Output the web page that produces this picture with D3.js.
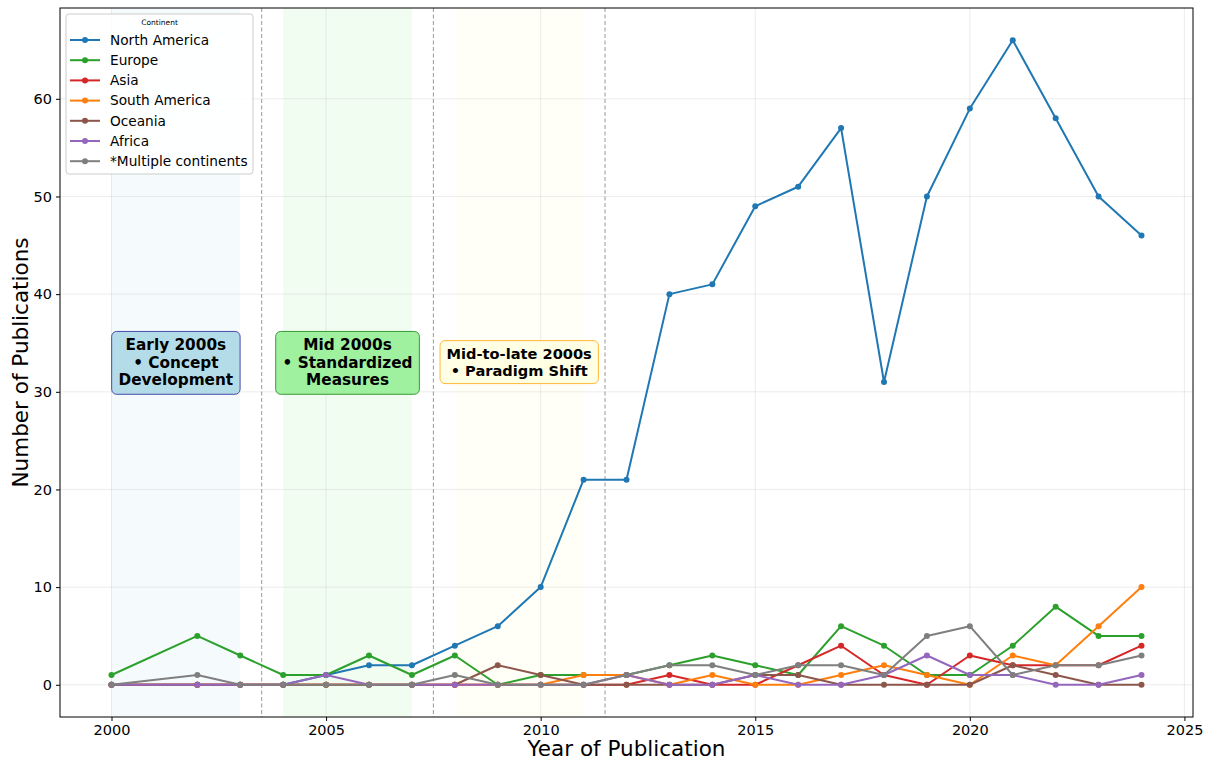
<!DOCTYPE html>
<html>
<head>
<meta charset="utf-8">
<script src="https://cdn.jsdelivr.net/npm/d3@7"></script>
<style>
  html, body { margin: 0; padding: 0; background: #fff; }
  svg { display: block; font-family: "DejaVu Sans", sans-serif; }
</style>
</head>
<body>
<svg id="chart" width="1210" height="760"></svg>
<script>
// Publications per year, by continent
const years = [2000, 2002, 2003, 2004, 2005, 2006, 2007, 2008, 2009, 2010, 2011, 2012,
               2013, 2014, 2015, 2016, 2017, 2018, 2019, 2020, 2021, 2022, 2023, 2024];
const northAmerica = [0, 0, 0, 0, 1, 2, 2, 4, 6, 10, 21, 21, 40, 41, 49, 51, 57, 31, 50, 59, 66, 58, 50, 46];
const europe       = [1, 5, 3, 1, 1, 3, 1, 3, 0, 1, 1, 1, 2, 3, 2, 1, 6, 4, 1, 1, 4, 8, 5, 5];
const asia         = [0, 0, 0, 0, 0, 0, 0, 0, 0, 0, 0, 0, 1, 0, 0, 2, 4, 1, 0, 3, 2, 2, 2, 4];
const southAmerica = [0, 0, 0, 0, 0, 0, 0, 0, 0, 0, 1, 1, 0, 1, 0, 0, 1, 2, 1, 0, 3, 2, 6, 10];
const oceania      = [0, 0, 0, 0, 0, 0, 0, 0, 2, 1, 0, 0, 0, 0, 1, 1, 0, 0, 0, 0, 2, 1, 0, 0];
const africa       = [0, 0, 0, 0, 1, 0, 0, 0, 0, 0, 0, 1, 0, 0, 1, 0, 0, 1, 3, 1, 1, 0, 0, 1];
const multiple     = [0, 1, 0, 0, 0, 0, 0, 1, 0, 0, 0, 1, 2, 2, 1, 2, 2, 1, 5, 6, 1, 2, 2, 3];

const seriesNames  = ["North America", "Europe", "Asia", "South America", "Oceania", "Africa", "*Multiple continents"];
const seriesValues = [northAmerica, europe, asia, southAmerica, oceania, africa, multiple];
const seriesColors = ["#1f77b4", "#2ca02c", "#d62728", "#ff7f0e", "#8c564b", "#9467bd", "#7f7f7f"];

const xTicks = [2000, 2005, 2010, 2015, 2020, 2025];
const yTicks = [0, 10, 20, 30, 40, 50, 60];

// Era bands, dividers and their labels
const eraStart  = [2000, 2004, 2008];
const eraEnd    = [2003, 2007, 2011];
const eraFill   = ["#b0e0e6", "#90ee90", "#ffffe0"];
const eraDividers = [2003.5, 2007.5, 2011.5];
const eraLabels = [
  ["Early 2000s", "\u2022 Concept", "Development"],
  ["Mid 2000s", "\u2022 Standardized", "Measures"],
  ["Mid-to-late 2000s", "\u2022 Paradigm Shift"]
];
const eraLabelX = [2001.5, 2005.5, 2009.5];
const eraLabelY = 33;
const eraBoxFill   = ["#add8e6", "#90ee90", "#ffffe0"];
const eraBoxStroke = ["#4a4aa8", "#3a9a3a", "#ffb833"];
const eraFontSize  = [15.3, 15.3, 14.6];

const svg = d3.select("#chart");
const margin = { left: 60, right: 17, top: 8, bottom: 43 };
const W = 1210, H = 760;
const plotW = W - margin.left - margin.right;
const plotH = H - margin.top - margin.bottom;

const x = d3.scaleLinear().domain([1998.8, 2025.2]).range([margin.left, margin.left + plotW]);
const y = d3.scaleLinear().domain([-3.3, 69.3]).range([margin.top + plotH, margin.top]);

const g = svg.append("g");

// shaded era bands
g.selectAll("rect.era").data(eraStart).enter().append("rect")
  .attr("class", "era")
  .attr("x", (d) => x(d))
  .attr("width", (d, i) => x(eraEnd[i]) - x(d))
  .attr("y", margin.top)
  .attr("height", plotH)
  .attr("fill", (d, i) => eraFill[i])
  .attr("fill-opacity", (d, i) => i === 2 ? 0.25 : 0.12);

// grid
g.append("g").selectAll("line").data(xTicks).enter().append("line")
  .attr("x1", (d) => x(d)).attr("x2", (d) => x(d))
  .attr("y1", margin.top).attr("y2", margin.top + plotH)
  .attr("stroke", "#b0b0b0").attr("stroke-opacity", 0.3).attr("stroke-width", 0.8);
g.append("g").selectAll("line").data(yTicks).enter().append("line")
  .attr("y1", (d) => y(d)).attr("y2", (d) => y(d))
  .attr("x1", margin.left).attr("x2", margin.left + plotW)
  .attr("stroke", "#b0b0b0").attr("stroke-opacity", 0.3).attr("stroke-width", 0.8);

// era dividers
g.selectAll("line.div").data(eraDividers).enter().append("line")
  .attr("class", "div")
  .attr("x1", (d) => x(d)).attr("x2", (d) => x(d))
  .attr("y1", margin.top).attr("y2", margin.top + plotH)
  .attr("stroke", "#999").attr("stroke-width", 1).attr("stroke-dasharray", "4,2.5");

// axes
const xAxis = d3.axisBottom(x).tickValues(xTicks).tickFormat(d3.format("d")).tickSize(4).tickPadding(4);
const yAxis = d3.axisLeft(y).tickValues(yTicks).tickSize(4).tickPadding(4);
const gx = svg.append("g").attr("transform", `translate(0,${margin.top + plotH})`).call(xAxis);
const gy = svg.append("g").attr("transform", `translate(${margin.left},0)`).call(yAxis);
[gx, gy].forEach((a) => {
  a.select(".domain").remove();
  a.selectAll("text").attr("font-size", 14.5).attr("fill", "#000").attr("font-family", "DejaVu Sans");
  a.selectAll("line").attr("stroke", "#000");
});

// lines and markers
const line = d3.line().x((d, i) => x(years[i])).y((d) => y(d));
seriesValues.forEach((vals, s) => {
  const sg = g.append("g");
  sg.append("path").datum(vals)
    .attr("d", line)
    .attr("fill", "none")
    .attr("stroke", seriesColors[s])
    .attr("stroke-width", 2)
    .attr("stroke-linejoin", "round");
  sg.selectAll("circle").data(vals).enter().append("circle")
    .attr("cx", (d, i) => x(years[i]))
    .attr("cy", (d) => y(d))
    .attr("r", 3)
    .attr("fill", seriesColors[s]);
});

// era label boxes
eraLabels.forEach((lines, i) => {
  const fs = eraFontSize[i];
  const lh = fs * 1.15;
  const cx = x(eraLabelX[i]), cy = y(eraLabelY);
  const lg = svg.append("g");
  const rect = lg.append("rect");
  const t = lg.append("text")
    .attr("text-anchor", "middle")
    .attr("font-weight", "bold")
    .attr("font-size", fs)
    .attr("fill", "#000");
  lines.forEach((ln, k) => {
    t.append("tspan")
      .attr("x", cx)
      .attr("y", cy + (k - (lines.length - 1) / 2) * lh)
      .attr("dy", "0.35em")
      .text(ln);
  });
  const bb = t.node().getBBox();
  const pad = fs * 0.45;
  rect.attr("x", bb.x - pad).attr("y", bb.y - pad * 0.7)
    .attr("width", bb.width + 2 * pad).attr("height", bb.height + pad * 1.4)
    .attr("rx", 5).attr("ry", 5)
    .attr("fill", eraBoxFill[i])
    .attr("fill-opacity", i === 0 ? 0.9 : 0.85)
    .attr("stroke", eraBoxStroke[i])
    .attr("stroke-width", 1);
});

// frame
svg.append("rect")
  .attr("x", margin.left).attr("y", margin.top)
  .attr("width", plotW).attr("height", plotH)
  .attr("fill", "none").attr("stroke", "#000").attr("stroke-width", 1);

// axis titles
svg.append("text")
  .attr("x", x(2012)).attr("y", 756)
  .attr("text-anchor", "middle").attr("font-size", 21.5).attr("fill", "#000")
  .text("Year of Publication");
svg.append("text")
  .attr("transform", `translate(28,${margin.top + plotH / 2}) rotate(-90)`)
  .attr("text-anchor", "middle").attr("font-size", 21.5).attr("fill", "#000")
  .text("Number of Publications");

// legend
const lgX = 66, lgY = 14;
const legend = svg.append("g");
legend.append("rect")
  .attr("x", lgX).attr("y", lgY).attr("width", 187).attr("height", 160)
  .attr("rx", 3).attr("fill", "#fff").attr("fill-opacity", 0.85)
  .attr("stroke", "#ccc").attr("stroke-width", 1);
legend.append("text")
  .attr("x", lgX + 93.5).attr("y", lgY + 11)
  .attr("text-anchor", "middle").attr("font-size", 7.5).attr("fill", "#000")
  .text("Continent");
seriesNames.forEach((name, s) => {
  const ly = lgY + 26 + s * 20.2;
  legend.append("line")
    .attr("x1", lgX + 4).attr("x2", lgX + 34).attr("y1", ly).attr("y2", ly)
    .attr("stroke", seriesColors[s]).attr("stroke-width", 2);
  legend.append("circle")
    .attr("cx", lgX + 19).attr("cy", ly).attr("r", 3).attr("fill", seriesColors[s]);
  legend.append("text")
    .attr("x", lgX + 44).attr("y", ly).attr("dy", "0.35em")
    .attr("font-size", 13.7).attr("fill", "#000")
    .text(name);
});
</script>
</body>
</html>
